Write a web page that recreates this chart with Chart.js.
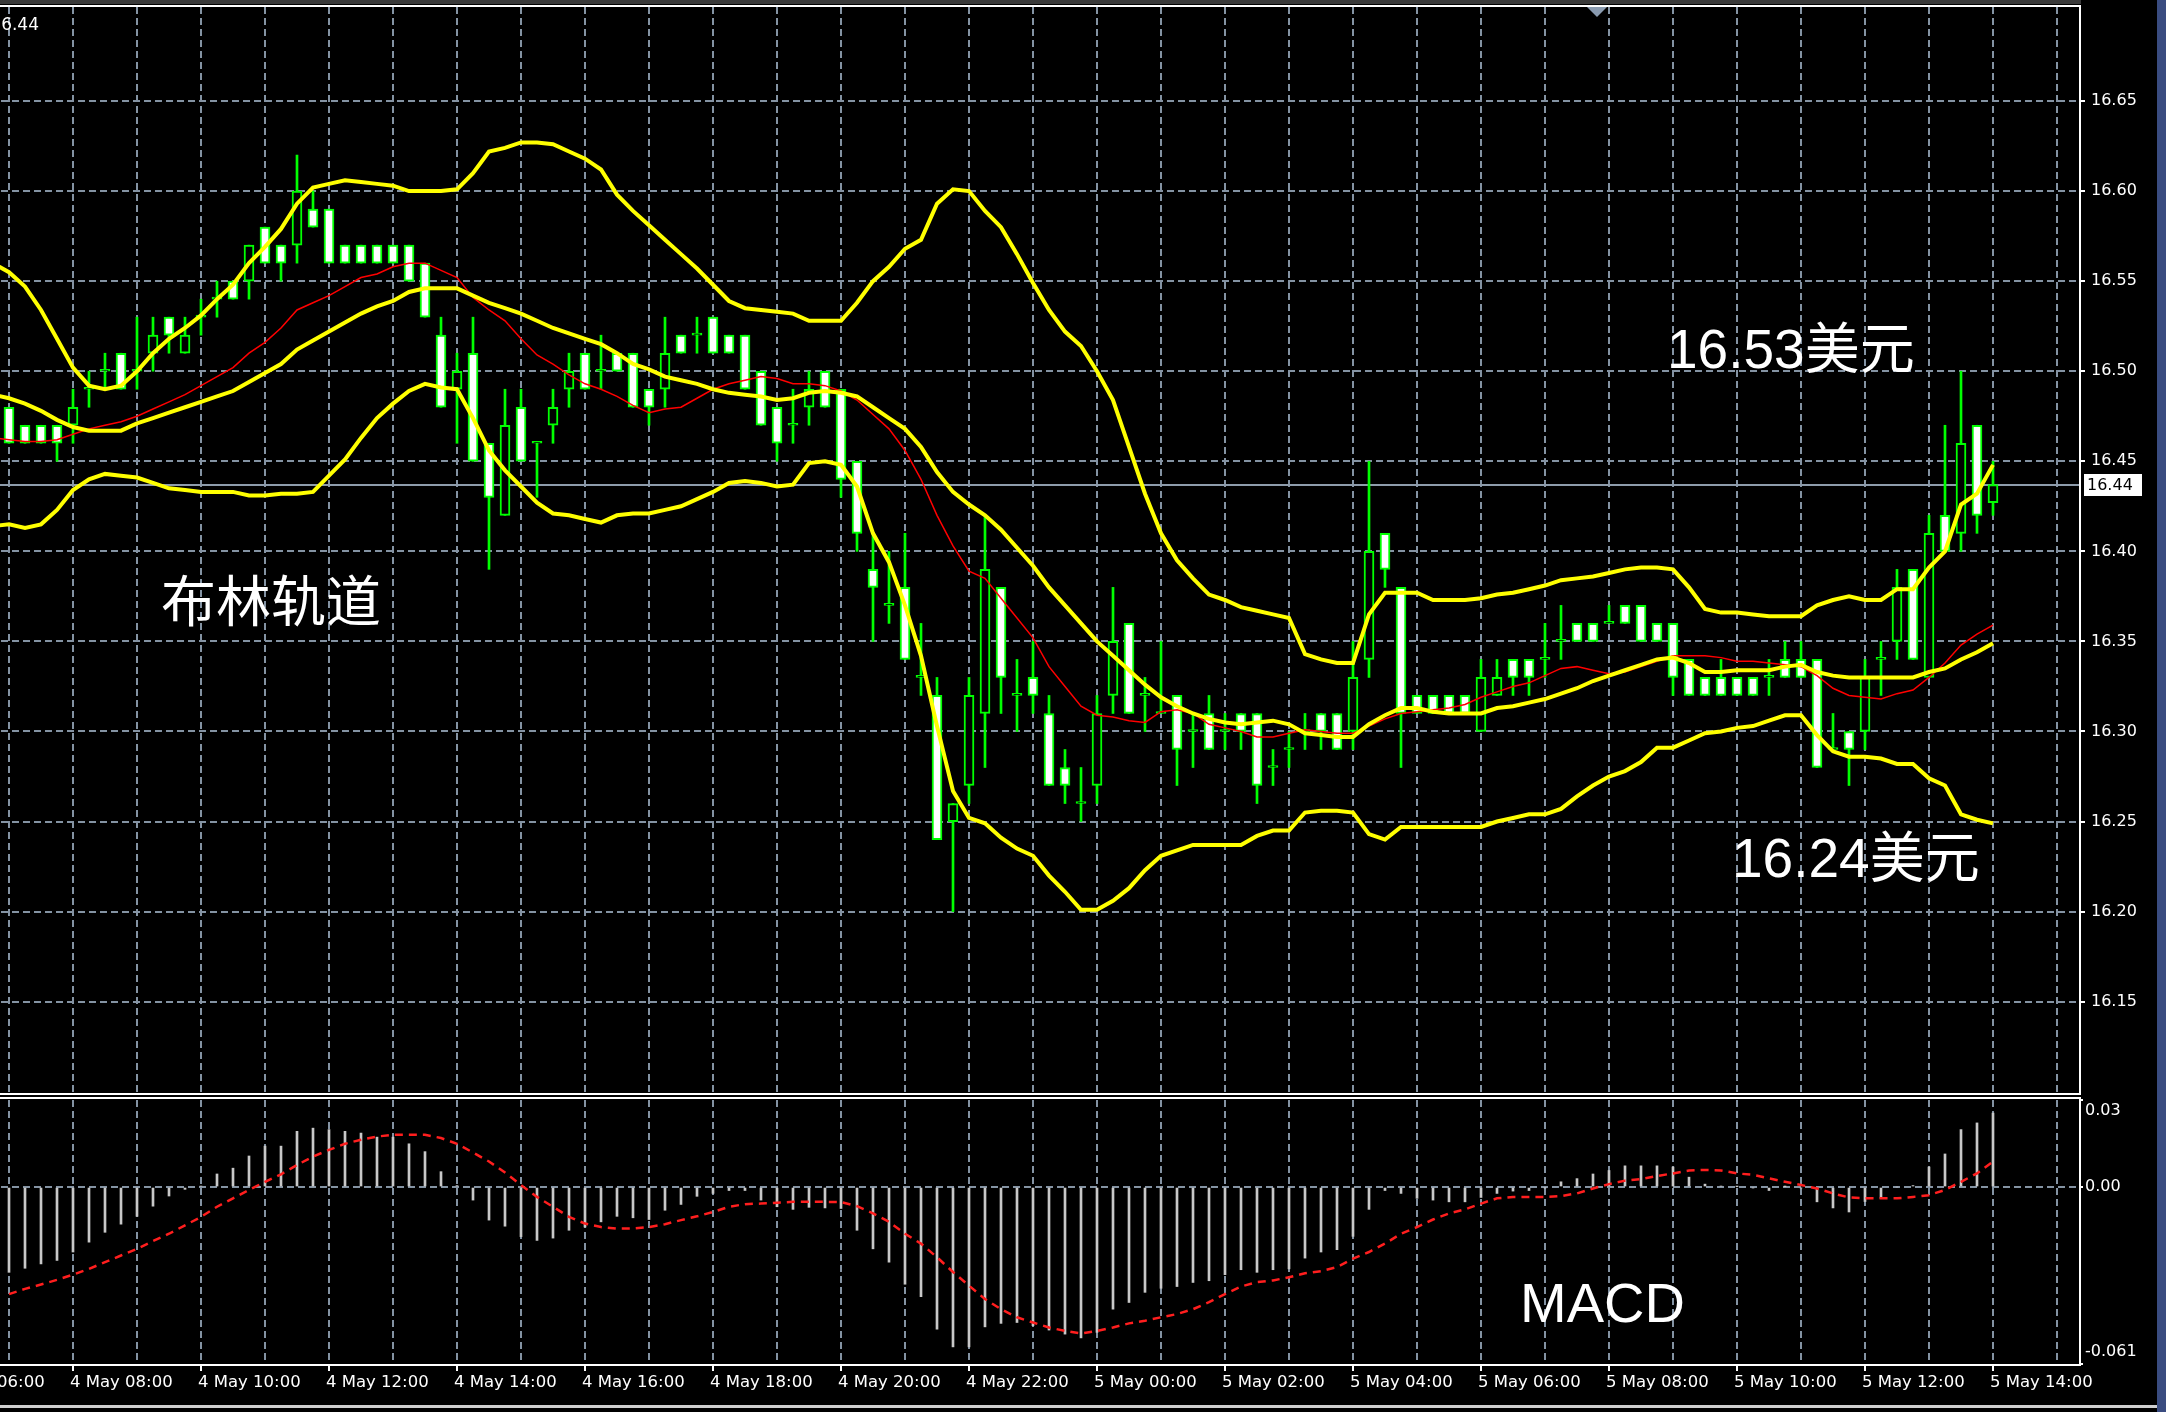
<!DOCTYPE html>
<html>
<head>
<meta charset="utf-8">
<script src="https://cdn.jsdelivr.net/npm/chart.js@4.4.1/dist/chart.umd.min.js"></script>
<style>
html, body { margin: 0; padding: 0; background: #000; width: 2166px; height: 1412px; overflow: hidden; position: relative; }
#main { position: absolute; left: -120px; top: 0; }
#macd { position: absolute; left: -120px; top: 1097px; }
#edge { position: absolute; left: 2157px; top: 0; width: 9px; height: 1412px; background: #3a4c80; }
</style>
</head>
<body>
<canvas id="main" width="2286" height="1095"></canvas>
<canvas id="macd" width="2286" height="315"></canvas>
<div id="edge"></div>
<script>
// XAGUSD M15, 4 May 07:00 -> 5 May 14:00 (one bar per 15 minutes)
var openP = [16.48,16.47,16.47,16.47,16.47,16.49,16.50,16.51,16.50,16.51,
16.53,16.51,16.53,16.54,16.55,16.55,16.58,16.57,16.57,16.59,
16.59,16.57,16.57,16.57,16.57,16.57,16.56,16.52,16.49,16.51,
16.46,16.42,16.48,16.46,16.47,16.49,16.51,16.50,16.51,16.51,
16.49,16.49,16.52,16.52,16.53,16.52,16.52,16.50,16.48,16.47,
16.48,16.50,16.49,16.45,16.39,16.37,16.38,16.33,16.32,16.25,
16.27,16.31,16.38,16.32,16.33,16.31,16.28,16.26,16.27,16.32,
16.36,16.32,16.31,16.32,16.30,16.31,16.30,16.31,16.31,16.28,
16.29,16.30,16.31,16.31,16.30,16.34,16.41,16.38,16.32,16.32,
16.32,16.32,16.30,16.32,16.34,16.34,16.34,16.35,16.36,16.36,
16.36,16.37,16.37,16.36,16.36,16.34,16.33,16.33,16.33,16.33,
16.33,16.34,16.34,16.34,16.29,16.30,16.30,16.34,16.35,16.39,
16.33,16.42,16.41,16.47,16.427];
var highP = [16.48,16.47,16.47,16.47,16.49,16.50,16.51,16.51,16.53,16.53,
16.53,16.53,16.54,16.55,16.55,16.57,16.58,16.57,16.62,16.60,
16.59,16.57,16.57,16.57,16.57,16.57,16.56,16.53,16.51,16.53,
16.46,16.49,16.49,16.46,16.49,16.51,16.51,16.52,16.51,16.51,
16.49,16.53,16.52,16.53,16.53,16.52,16.52,16.50,16.48,16.49,
16.50,16.50,16.49,16.45,16.41,16.40,16.41,16.36,16.33,16.26,
16.33,16.42,16.38,16.34,16.35,16.32,16.29,16.28,16.32,16.38,
16.36,16.33,16.35,16.32,16.31,16.32,16.31,16.31,16.31,16.29,
16.30,16.31,16.31,16.31,16.35,16.45,16.41,16.38,16.32,16.32,
16.32,16.32,16.34,16.34,16.34,16.34,16.36,16.37,16.36,16.36,
16.37,16.37,16.37,16.36,16.36,16.34,16.33,16.34,16.33,16.33,
16.34,16.35,16.35,16.34,16.31,16.30,16.34,16.35,16.39,16.39,
16.42,16.47,16.50,16.47,16.45];
var lowP = [16.46,16.46,16.46,16.45,16.46,16.48,16.49,16.49,16.49,16.50,
16.51,16.51,16.52,16.53,16.54,16.54,16.56,16.55,16.56,16.58,
16.56,16.56,16.56,16.56,16.56,16.55,16.53,16.48,16.46,16.45,
16.39,16.42,16.45,16.43,16.46,16.48,16.49,16.49,16.50,16.48,
16.47,16.48,16.51,16.51,16.51,16.51,16.49,16.47,16.45,16.46,
16.47,16.48,16.43,16.40,16.35,16.36,16.34,16.32,16.24,16.20,
16.26,16.28,16.31,16.30,16.31,16.27,16.26,16.25,16.26,16.31,
16.31,16.30,16.31,16.27,16.28,16.29,16.29,16.29,16.26,16.27,
16.28,16.29,16.29,16.29,16.29,16.33,16.38,16.28,16.31,16.31,
16.31,16.31,16.30,16.32,16.32,16.32,16.33,16.34,16.35,16.35,
16.36,16.36,16.35,16.35,16.32,16.32,16.32,16.32,16.32,16.32,
16.32,16.33,16.33,16.28,16.29,16.27,16.29,16.32,16.34,16.34,
16.33,16.40,16.40,16.41,16.42];
var closeP = [16.46,16.46,16.46,16.46,16.48,16.49,16.50,16.49,16.50,16.52,
16.52,16.52,16.53,16.54,16.54,16.57,16.56,16.56,16.60,16.58,
16.56,16.56,16.56,16.56,16.56,16.55,16.53,16.48,16.50,16.45,
16.43,16.47,16.45,16.46,16.48,16.50,16.49,16.50,16.50,16.48,
16.48,16.51,16.51,16.52,16.51,16.51,16.49,16.47,16.46,16.47,
16.49,16.48,16.44,16.41,16.38,16.37,16.34,16.33,16.24,16.26,
16.32,16.39,16.33,16.32,16.32,16.27,16.27,16.26,16.31,16.35,
16.31,16.32,16.31,16.29,16.30,16.29,16.30,16.30,16.27,16.28,
16.29,16.30,16.30,16.29,16.33,16.40,16.39,16.31,16.31,16.31,
16.31,16.31,16.33,16.33,16.33,16.33,16.34,16.35,16.35,16.35,
16.36,16.36,16.35,16.35,16.33,16.32,16.32,16.32,16.32,16.32,
16.33,16.33,16.33,16.28,16.29,16.29,16.33,16.34,16.38,16.34,
16.41,16.40,16.46,16.42,16.437];

// indicator lines start one bar before the first candle (left edge)
var lineStart = -1;
var bbUpper = [16.560, 16.555,16.547,16.534,16.518,16.502,16.492,16.490,16.492,16.500,16.510,
16.518,16.524,16.531,16.540,16.548,16.560,16.569,16.579,16.593,16.602,
16.604,16.606,16.605,16.604,16.603,16.600,16.600,16.600,16.601,16.610,
16.622,16.624,16.627,16.627,16.626,16.622,16.618,16.612,16.598,16.589,
16.581,16.573,16.565,16.557,16.548,16.539,16.535,16.534,16.533,16.532,
16.528,16.528,16.528,16.538,16.550,16.558,16.568,16.573,16.593,16.601,
16.600,16.589,16.580,16.565,16.549,16.534,16.522,16.514,16.500,16.484,
16.458,16.432,16.410,16.395,16.385,16.376,16.373,16.369,16.367,16.365,
16.363,16.343,16.340,16.338,16.338,16.365,16.377,16.377,16.377,16.373,
16.373,16.373,16.374,16.376,16.377,16.379,16.381,16.384,16.385,16.386,
16.388,16.390,16.391,16.391,16.390,16.380,16.368,16.366,16.366,16.365,
16.364,16.364,16.364,16.370,16.373,16.375,16.373,16.373,16.379,16.379,
16.391,16.400,16.426,16.432,16.448];
var bbMiddle = [16.487, 16.485,16.482,16.478,16.473,16.469,16.467,16.467,16.467,16.471,16.474,
16.477,16.480,16.483,16.486,16.489,16.494,16.499,16.504,16.512,16.517,
16.522,16.527,16.532,16.536,16.539,16.544,16.546,16.546,16.546,16.542,
16.538,16.535,16.532,16.528,16.524,16.521,16.518,16.515,16.510,16.504,
16.501,16.497,16.495,16.493,16.490,16.488,16.487,16.486,16.484,16.485,
16.488,16.489,16.488,16.486,16.480,16.474,16.468,16.458,16.444,16.433,
16.426,16.420,16.412,16.402,16.392,16.380,16.370,16.360,16.350,16.342,
16.334,16.326,16.319,16.314,16.310,16.307,16.305,16.304,16.305,16.306,
16.304,16.299,16.298,16.297,16.297,16.304,16.309,16.313,16.313,16.311,
16.310,16.310,16.310,16.313,16.314,16.316,16.318,16.321,16.324,16.328,
16.331,16.334,16.337,16.340,16.341,16.338,16.333,16.333,16.334,16.334,
16.334,16.336,16.337,16.333,16.331,16.330,16.330,16.330,16.330,16.330,
16.333,16.335,16.340,16.344,16.349];
var bbLower = [16.414, 16.415,16.413,16.415,16.423,16.434,16.440,16.443,16.442,16.441,16.438,
16.435,16.434,16.433,16.433,16.433,16.431,16.431,16.432,16.432,16.433,
16.442,16.451,16.463,16.474,16.482,16.489,16.493,16.491,16.490,16.474,
16.456,16.445,16.436,16.427,16.421,16.420,16.418,16.416,16.420,16.421,
16.421,16.423,16.425,16.429,16.433,16.438,16.439,16.438,16.436,16.437,
16.449,16.450,16.448,16.436,16.410,16.394,16.370,16.342,16.303,16.267,
16.252,16.249,16.241,16.235,16.231,16.220,16.211,16.201,16.201,16.206,
16.213,16.223,16.231,16.234,16.237,16.237,16.237,16.237,16.242,16.245,
16.245,16.255,16.256,16.256,16.255,16.243,16.240,16.247,16.247,16.247,
16.247,16.247,16.247,16.250,16.252,16.254,16.254,16.257,16.264,16.270,
16.275,16.278,16.283,16.291,16.291,16.295,16.299,16.300,16.302,16.303,
16.306,16.309,16.309,16.298,16.289,16.286,16.286,16.285,16.282,16.282,
16.274,16.270,16.254,16.251,16.249];
var maRed = [16.463, 16.462,16.461,16.461,16.462,16.465,16.468,16.470,16.472,16.475,16.479,
16.483,16.487,16.492,16.497,16.502,16.510,16.516,16.524,16.534,16.538,
16.542,16.547,16.552,16.554,16.558,16.560,16.560,16.556,16.552,16.541,
16.534,16.528,16.518,16.509,16.504,16.498,16.493,16.490,16.486,16.481,
16.477,16.479,16.480,16.485,16.490,16.493,16.495,16.497,16.496,16.493,
16.493,16.492,16.489,16.484,16.476,16.468,16.456,16.440,16.420,16.403,
16.389,16.385,16.374,16.363,16.352,16.336,16.325,16.314,16.309,16.308,
16.306,16.305,16.311,16.312,16.310,16.304,16.302,16.300,16.297,16.297,
16.299,16.301,16.300,16.299,16.299,16.303,16.307,16.310,16.311,16.312,
16.313,16.315,16.319,16.322,16.325,16.327,16.331,16.335,16.336,16.334,
16.332,16.333,16.336,16.339,16.342,16.342,16.342,16.341,16.339,16.339,
16.338,16.337,16.336,16.331,16.324,16.320,16.319,16.318,16.321,16.323,
16.330,16.338,16.348,16.354,16.359];

var macdHist = [-0.0294,-0.0280,-0.0265,-0.0253,-0.0224,-0.0190,-0.0156,-0.0128,-0.0101,-0.0066,
-0.0031,-0.0008,0.0003,0.0045,0.0065,0.0107,0.0141,0.0141,0.0192,0.0203,
0.0198,0.0192,0.0186,0.0172,0.0172,0.0149,0.0122,0.0053,0.0005,-0.0045,
-0.0114,-0.0135,-0.0171,-0.0184,-0.0176,-0.0149,-0.0138,-0.0120,-0.0101,-0.0106,
-0.0112,-0.0080,-0.0060,-0.0032,-0.0022,-0.0012,-0.0012,-0.0045,-0.0068,-0.0077,
-0.0070,-0.0072,-0.0074,-0.0149,-0.0213,-0.0259,-0.0335,-0.0378,-0.0490,-0.0551,
-0.0551,-0.0482,-0.0470,-0.0467,-0.0478,-0.0493,-0.0507,-0.0520,-0.0501,-0.0421,
-0.0398,-0.0363,-0.0349,-0.0343,-0.0329,-0.0323,-0.0302,-0.0285,-0.0294,-0.0285,
-0.0282,-0.0245,-0.0224,-0.0216,-0.0170,-0.0077,-0.0012,-0.0022,-0.0039,-0.0045,
-0.0051,-0.0051,-0.0036,-0.0022,-0.0014,-0.0012,-0.0002,0.0018,0.0029,0.0045,
0.0057,0.0073,0.0073,0.0073,0.0069,0.0034,0.0010,0.0003,0.0001,-0.0003,
-0.0012,0.0001,-0.0003,-0.0051,-0.0072,-0.0086,-0.0050,-0.0039,0.0000,0.0005,
0.0069,0.0114,0.0198,0.0221,0.0255];
var macdSignal = [-0.0369,-0.0351,-0.0336,-0.0320,-0.0302,-0.0282,-0.0259,-0.0236,-0.0213,-0.0186,
-0.0161,-0.0132,-0.0103,-0.0068,-0.0039,-0.0010,0.0018,0.0044,0.0076,0.0105,
0.0128,0.0149,0.0163,0.0174,0.0180,0.0180,0.0180,0.0169,0.0149,0.0119,
0.0088,0.0050,0.0007,-0.0034,-0.0068,-0.0103,-0.0126,-0.0138,-0.0143,-0.0143,
-0.0138,-0.0128,-0.0114,-0.0101,-0.0086,-0.0068,-0.0059,-0.0057,-0.0054,-0.0051,
-0.0051,-0.0051,-0.0052,-0.0066,-0.0091,-0.0120,-0.0161,-0.0195,-0.0242,-0.0293,
-0.0340,-0.0386,-0.0421,-0.0449,-0.0467,-0.0484,-0.0496,-0.0505,-0.0496,-0.0484,
-0.0470,-0.0461,-0.0449,-0.0438,-0.0421,-0.0397,-0.0369,-0.0343,-0.0328,-0.0322,
-0.0311,-0.0297,-0.0290,-0.0276,-0.0247,-0.0224,-0.0195,-0.0161,-0.0138,-0.0112,
-0.0091,-0.0077,-0.0057,-0.0039,-0.0034,-0.0034,-0.0034,-0.0031,-0.0022,-0.0005,
0.0010,0.0022,0.0027,0.0038,0.0047,0.0057,0.0059,0.0057,0.0047,0.0042,
0.0030,0.0018,0.0007,-0.0005,-0.0022,-0.0036,-0.0039,-0.0039,-0.0039,-0.0034,
-0.0028,-0.0010,0.0018,0.0047,0.0088];

var bidPrice = 16.437;
var yTickValues = [16.15, 16.20, 16.25, 16.30, 16.35, 16.40, 16.45, 16.50, 16.55, 16.60, 16.65];
var yTickLabels = ['16.15', '16.20', '16.25', '16.30', '16.35', '16.40', '16.45', '16.50', '16.55', '16.60', '16.65'];
var macdTickValues = [0.03, 0, -0.061];
var macdTickLabels = ['0.03', '0.00', '-0.061'];
// one label every 2 hours, first one (06:00) sits 4 bars before the first candle
var xTickLabels = ['4 May 06:00', '4 May 08:00', '4 May 10:00', '4 May 12:00', '4 May 14:00', '4 May 16:00',
  '4 May 18:00', '4 May 20:00', '4 May 22:00', '5 May 00:00', '5 May 02:00', '5 May 04:00',
  '5 May 06:00', '5 May 08:00', '5 May 10:00', '5 May 12:00', '5 May 14:00'];

var OFF = 120;               // canvases start 120px left of the page
var xMin = -8.0625, xMax = 129.375;
var gridColor = '#8493a3';
var hourTicks = [];
for (var h = -8; h <= 128; h += 4) hourTicks.push(h);
function labelFor(v) {
  var k = (v + 4) / 8;
  return (Number.isInteger(k) && xTickLabels[k]) ? xTickLabels[k] : '';
}

var bars = openP.map(function (o, i) { return i; });
var wickData = bars.map(function (i) { return { x: i, y: [lowP[i], highP[i]] }; });
var bodyData = bars.map(function (i) { return { x: i, y: [openP[i], closeP[i]] }; });
function lineData(arr) {
  return arr.map(function (v, k) { return { x: k + lineStart, y: v }; });
}

Chart.defaults.font.family = 'DejaVu Sans';

var mainDecor = {
  id: 'mainDecor',
  beforeDraw: function (chart) {
    var c = chart.ctx, a = chart.chartArea;
    c.save();
    c.fillStyle = '#000';
    c.fillRect(0, 0, chart.width, chart.height);
    c.fillStyle = '#3a3a3a';
    c.fillRect(0, 0, a.right + 2, 4);
    c.restore();
  },
  beforeDatasetsDraw: function (chart) {
    var c = chart.ctx, a = chart.chartArea;
    var y = Math.round(chart.scales.y.getPixelForValue(bidPrice));
    c.save();
    c.strokeStyle = '#8e9cab';
    c.lineWidth = 2;
    c.beginPath();
    c.moveTo(a.left, y);
    c.lineTo(a.right, y);
    c.stroke();
    c.restore();
  },
  afterDraw: function (chart) {
    var c = chart.ctx, a = chart.chartArea;
    var y = Math.round(chart.scales.y.getPixelForValue(bidPrice));
    c.save();
    // panel frame
    c.strokeStyle = '#fff';
    c.lineWidth = 2;
    c.beginPath();
    c.moveTo(a.left, a.top - 1);
    c.lineTo(a.right + 1, a.top - 1);
    c.lineTo(a.right + 1, a.bottom + 1);
    c.lineTo(a.left, a.bottom + 1);
    c.stroke();
    // bid price tag
    c.fillStyle = '#fff';
    c.fillRect(2084 + OFF, y - 11, 58, 22);
    c.fillStyle = '#000';
    c.font = '16px "DejaVu Sans"';
    c.textBaseline = 'middle';
    c.textAlign = 'left';
    c.fillText('16.44', 2087 + OFF, y + 1);
    // chart shift marker
    c.fillStyle = '#8a9bb0';
    c.beginPath();
    c.moveTo(1587 + OFF, 7);
    c.lineTo(1607 + OFF, 7);
    c.lineTo(1597 + OFF, 17);
    c.closePath();
    c.fill();
    // top-left price
    c.fillStyle = '#fff';
    c.font = '17px "DejaVu Sans"';
    c.textBaseline = 'alphabetic';
    c.textAlign = 'right';
    c.fillText('16.44', 39 + OFF, 30);
    // annotations
    c.textAlign = 'left';
    c.font = '55px "Liberation Sans", "Noto Sans CJK SC", sans-serif';
    c.fillText('16.53美元', 1667 + OFF, 368);
    c.fillText('16.24美元', 1732 + OFF, 877);
    c.font = '55px "Noto Sans CJK SC", sans-serif';
    c.fillText('布林轨道', 161 + OFF, 621);
    c.restore();
  }
};

var macdDecor = {
  id: 'macdDecor',
  beforeDraw: function (chart) {
    var c = chart.ctx;
    c.save();
    c.fillStyle = '#000';
    c.fillRect(0, 0, chart.width, chart.height);
    c.restore();
  },
  afterDraw: function (chart) {
    var c = chart.ctx, a = chart.chartArea, ys = chart.scales.y;
    c.save();
    c.strokeStyle = '#fff';
    c.lineWidth = 2;
    c.beginPath();
    c.moveTo(a.left, 1);
    c.lineTo(a.right + 1, 1);
    c.lineTo(a.right + 1, a.bottom + 1);
    c.lineTo(a.left, a.bottom + 1);
    c.stroke();
    // top and bottom scale labels sit inside the panel, as in MT4
    c.fillStyle = '#fff';
    c.font = '16px "DejaVu Sans"';
    c.textAlign = 'left';
    c.textBaseline = 'middle';
    c.fillText(macdTickLabels[0], a.right + 6, ys.getPixelForValue(macdTickValues[0]) + 11);
    c.fillText(macdTickLabels[2], a.right + 6, ys.getPixelForValue(macdTickValues[2]) - 12);
    c.textBaseline = 'alphabetic';
    c.font = '56px "Liberation Sans", sans-serif';
    c.fillText('MACD', 1520 + OFF, 225);
    c.fillStyle = '#cfcfcf';
    c.fillRect(0, 308, chart.width, 3);
    c.restore();
  }
};

new Chart(document.getElementById('main'), {
  type: 'bar',
  data: {
    datasets: [
      { type: 'line', data: lineData(bbUpper), borderColor: '#ffff00', borderWidth: 4, pointRadius: 0, tension: 0, order: 0 },
      { type: 'line', data: lineData(bbMiddle), borderColor: '#ffff00', borderWidth: 4, pointRadius: 0, tension: 0, order: 0 },
      { type: 'line', data: lineData(bbLower), borderColor: '#ffff00', borderWidth: 4, pointRadius: 0, tension: 0, order: 0 },
      { type: 'line', data: lineData(maRed), borderColor: '#ff0000', borderWidth: 1.5, pointRadius: 0, tension: 0, order: 1 },
      { type: 'bar', data: bodyData, barThickness: 10, grouped: false, minBarLength: 2,
        borderWidth: 2, borderColor: '#00ff00', borderSkipped: false,
        backgroundColor: function (ctx) {
          var i = ctx.dataIndex;
          return closeP[i] >= openP[i] ? '#000' : '#fff';
        }, order: 2 },
      { type: 'bar', data: wickData, barThickness: 2, grouped: false, backgroundColor: '#00ff00', borderWidth: 0, order: 3 }
    ]
  },
  options: {
    responsive: false,
    animation: false,
    devicePixelRatio: 1,
    events: [],
    layout: { padding: { top: 7, bottom: 2, left: 0, right: 0 } },
    plugins: { legend: { display: false }, tooltip: { enabled: false } },
    scales: {
      x: {
        type: 'linear', min: xMin, max: xMax, offset: false,
        grid: { color: gridColor, lineWidth: 2, drawTicks: false, offset: false },
        border: { display: false, dash: [7, 4] },
        ticks: { display: false, autoSkip: false },
        afterBuildTicks: function (s) { s.ticks = hourTicks.map(function (v) { return { value: v }; }); },
        afterFit: function (s) { s.height = 0; s.paddingLeft = 0; s.paddingRight = 0; }
      },
      y: {
        type: 'linear', position: 'right', min: 16.0993, max: 16.7022,
        grid: { color: gridColor, lineWidth: 2, tickColor: '#fff', tickLength: 6, tickWidth: 2 },
        border: { display: false, dash: [7, 4] },
        ticks: {
          color: '#fff', font: { size: 16 }, padding: 6, autoSkip: false,
          callback: function (v, i) { return yTickLabels[i]; }
        },
        afterBuildTicks: function (s) { s.ticks = yTickValues.map(function (v) { return { value: v }; }); },
        afterFit: function (s) { s.width = 87; s.paddingTop = 0; s.paddingBottom = 0; }
      }
    }
  },
  plugins: [mainDecor]
});

new Chart(document.getElementById('macd'), {
  type: 'bar',
  data: {
    datasets: [
      { type: 'line', data: macdSignal.map(function (v, i) { return { x: i, y: v }; }),
        borderColor: '#ff1e1e', borderWidth: 2.5, borderDash: [8, 6], pointRadius: 0, tension: 0, order: 0 },
      { type: 'bar', data: macdHist.map(function (v, i) { return { x: i, y: v }; }),
        barThickness: 2, grouped: false, backgroundColor: '#c8c8c8', order: 1 }
    ]
  },
  options: {
    responsive: false,
    animation: false,
    devicePixelRatio: 1,
    events: [],
    layout: { padding: { top: 3, bottom: 0, left: 0, right: 0 } },
    plugins: { legend: { display: false }, tooltip: { enabled: false } },
    scales: {
      x: {
        type: 'linear', min: xMin, max: xMax, offset: false,
        grid: {
          color: gridColor, lineWidth: 2, drawTicks: true, tickLength: 7, tickWidth: 2, offset: false,
          tickColor: function (c) { return (c.tick && labelFor(c.tick.value)) ? '#fff' : 'rgba(0,0,0,0)'; }
        },
        border: { display: false, dash: [7, 4] },
        ticks: {
          color: '#fff', font: { size: 16.5 }, autoSkip: false, maxRotation: 0, minRotation: 0,
          align: 'start', padding: 2, labelOffset: -3,
          callback: function (v) { return labelFor(v); }
        },
        afterBuildTicks: function (s) { s.ticks = hourTicks.map(function (v) { return { value: v }; }); },
        afterFit: function (s) { s.height = 48; s.paddingLeft = 0; s.paddingRight = 0; }
      },
      y: {
        type: 'linear', position: 'right', min: -0.061, max: 0.03,
        grid: {
          color: function (c) { return (c.tick && c.tick.value === 0) ? gridColor : 'rgba(0,0,0,0)'; },
          lineWidth: 2, tickColor: '#fff', tickLength: 4, tickWidth: 2
        },
        border: { display: false, dash: [7, 4] },
        ticks: {
          color: '#fff', font: { size: 16 }, padding: 2, autoSkip: false,
          callback: function (v, i) { return i === 1 ? macdTickLabels[1] : ''; }
        },
        afterBuildTicks: function (s) { s.ticks = macdTickValues.map(function (v) { return { value: v }; }); },
        afterFit: function (s) { s.width = 87; s.paddingTop = 0; s.paddingBottom = 0; }
      }
    }
  },
  plugins: [macdDecor]
});
</script>
</body>
</html>
